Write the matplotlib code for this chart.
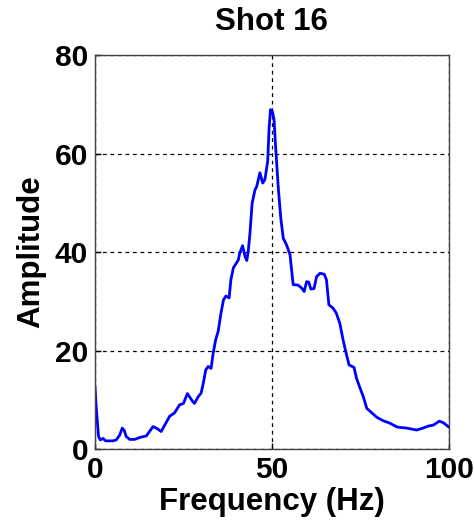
import matplotlib
matplotlib.use("Agg")
import matplotlib.pyplot as plt

freq = [0, 0.3, 1.0, 1.5, 2.3, 3.0, 5.1, 6.0, 7.0, 7.7, 8.3, 8.8, 9.8, 11.2, 12.7,
        14.5, 16.4, 17.3, 18.7, 21.1, 22.5, 23.9, 25.0, 26.1, 27.5, 28.1, 29.2,
        30.0, 30.6, 31.3, 32.0, 32.8, 33.4, 34.1, 34.8, 35.6, 36.3, 37.0, 37.9,
        38.4, 39.1, 40.5, 40.9, 41.7, 42.4, 42.9, 43.3, 43.8, 44.4, 45.2, 45.7,
        46.6, 47.4, 48.0, 48.8, 49.2, 49.6, 50.1, 50.6, 51.0, 51.8, 52.5, 53.2,
        54.1, 55.1, 56.0, 57.4, 58.4, 59.1, 59.8, 60.4, 61.0, 61.9, 62.6, 63.6,
        64.8, 65.4, 66.1, 67.3, 68.2, 69.2, 70.1, 71.1, 71.8, 73.2, 73.9, 74.9,
        75.8, 76.8, 78.2, 79.6, 81.4, 83.3, 85.4, 88.0, 90.9, 92.7, 94.2, 95.6,
        97.3, 98.4, 100]
amp = [12.7, 9.0, 2.6, 1.9, 2.2, 1.7, 1.7, 1.9, 2.9, 4.3, 3.8, 2.6, 2.0, 2.0, 2.4,
       2.7, 4.6, 4.3, 3.6, 6.7, 7.4, 9.0, 9.3, 11.3, 9.8, 9.3, 10.7,
       11.4, 13.4, 16.1, 16.8, 16.4, 19.5, 22.2, 23.9, 27.6, 30.3, 31.1, 30.7,
       34.4, 36.8, 38.4, 39.8, 41.3, 39.1, 38.3, 40.1, 43.9, 49.9, 52.6, 53.3,
       56.1, 54.0, 54.7, 58.4, 65.2, 68.9, 68.6, 66.9, 61.8, 53.0, 46.9, 42.8,
       41.5, 39.5, 33.4, 33.3, 32.7, 32.0, 34.0, 33.9, 32.5, 32.6, 35.0, 35.7,
       35.5, 34.4, 29.3, 28.6, 27.6, 25.5, 22.2, 19.1, 17.1, 16.6, 14.4, 12.4,
       10.7, 8.3, 7.4, 6.5, 5.8, 5.3, 4.5, 4.3, 3.9, 4.3, 4.7, 4.9,
       5.7, 5.4, 4.5]

xticks = [0, 50, 100]
yticks = [0, 20, 40, 60, 80]

plt.rcParams['font.family'] = ['Liberation Sans', 'DejaVu Sans']
fig = plt.figure(figsize=(4.74, 5.23), dpi=100)
ax = fig.add_axes([0.2004, 0.141, 0.7466, 0.754])
ax.plot(freq, amp, color='#0000ff', lw=2)
ax.set_xlim(0, 100)
ax.set_ylim(0, 80)
ax.set_xticks(xticks)
ax.set_yticks(yticks)
ax.grid(True, color='black', linestyle=(0, (3, 3)), linewidth=0.9)
ax.tick_params(direction='in', length=4, width=1, labelsize=21.5, pad=5)
for lab in ax.get_xticklabels() + ax.get_yticklabels():
    lab.set_fontweight('bold')
for s in ax.spines.values():
    s.set_color('#404040')
    s.set_linewidth(1)
ax.set_xlabel('Frequency (Hz)', fontsize=22.5, fontweight='bold', labelpad=2)
ax.set_ylabel('Amplitude', fontsize=22.5, fontweight='bold', labelpad=6)
ax.set_title('Shot 16', fontsize=22.5, fontweight='bold', pad=18)
fig.savefig('out.png', dpi=100)
